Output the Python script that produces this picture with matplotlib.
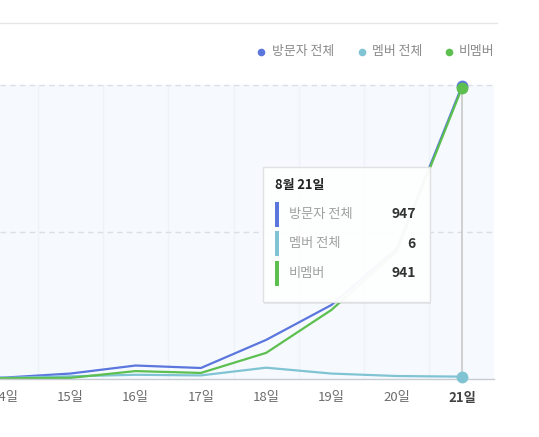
import matplotlib
matplotlib.use("Agg")
import matplotlib.pyplot as plt
from matplotlib.patches import FancyBboxPatch, Rectangle
from matplotlib.lines import Line2D

plt.rcParams['font.family'] = ['Noto Sans CJK KR', 'DejaVu Sans']

# ---- data ----
days = [13, 14, 15, 16, 17, 18, 19, 20, 21]
series_names = ["방문자 전체", "멤버 전체", "비멤버"]
visitors = [0, 3, 16, 42, 34, 125, 238, 420, 947]
members = [0, 2, 7, 12, 10, 35, 16, 8, 6]
non_members = [0, 1, 2, 24, 18, 83, 222, 412, 941]
tooltip_title = "8월 21일"
tick_days = [14, 15, 16, 17, 18, 19, 20, 21]
tick_labels = [f"{d}일" for d in tick_days]

colors = ["#5b76dd", "#80c4d4", "#5cbf4f"]
values = [visitors, members, non_members]

W, H = 539, 437
fig = plt.figure(figsize=(W / 100, H / 100), dpi=100)
fig.patch.set_facecolor("white")


def fx(px):
    return px / W


def fy(py):
    return 1 - py / H


# axes placement (pixels from top-left)
ax_left, ax_right, ax_top, ax_bottom = 0, 494, 85, 378.5
ax = fig.add_axes([fx(ax_left), fy(ax_bottom), fx(ax_right - ax_left), (ax_bottom - ax_top) / H])
ax.set_facecolor("#f6faff")
ax.set_xlim(13.923, 21.49)
ax.set_ylim(0, 950)

for s in ["top", "right", "left"]:
    ax.spines[s].set_visible(False)
ax.spines["bottom"].set_color("#c6ccd2")
ax.spines["bottom"].set_linewidth(1)

# band separators
for b in [d + 0.5 for d in days[:-1]]:
    ax.axvline(b, color="#eef3f9", lw=1, zorder=0.5)

# dashed gridlines
for g in [475, 950]:
    ax.axhline(g, color="#dadfe5", lw=1, ls=(0, (4, 3)), zorder=0.6, clip_on=False)

# crosshair
ax.plot([21, 21], [0, visitors[-1]], color="#c8c8c8", lw=1.2, zorder=1)

for vals, c in zip(values, colors):
    ax.plot(days, vals, color=c, lw=1.6, zorder=2, solid_joinstyle="round")
for vals, c in zip(values, colors):
    ax.plot([days[-1]], [vals[-1]], "o", color=c, ms=8.5, zorder=3, clip_on=False, mec="none")

ax.set_yticks([])
ax.set_xticks(tick_days)
ax.set_xticklabels(tick_labels, fontsize=9.5, color="#6b6b6b")
ax.tick_params(axis="x", length=0, pad=9)
lbls = ax.get_xticklabels()
lbls[-1].set_fontweight("bold")
lbls[-1].set_color("#444444")

# top separator line
fig.add_artist(Line2D([fx(0), fx(497)], [fy(23), fy(23)], color="#e6e6e6", lw=1))

# legend
leg_dots = [261, 361.7, 449]
leg_text = [272.5, 372, 459]
for name, c, dx, tx in zip(series_names, colors, leg_dots, leg_text):
    fig.add_artist(Line2D([fx(dx)], [fy(52)], marker="o", color=c, ms=5.5, mec="none", ls="none"))
    fig.text(fx(tx), fy(52), name, fontsize=9.3, color="#8a8a8a", va="center", ha="left")

# tooltip
tl, tt, tr, tb = 262.5, 166.5, 430, 302
shadow = FancyBboxPatch((fx(tl + 1.5), fy(tb + 2)), fx(tr - tl), (tb - tt) / H,
                        boxstyle="square,pad=0", transform=fig.transFigure,
                        facecolor="#000000", alpha=0.07, edgecolor="none", zorder=9)
fig.add_artist(shadow)
box = FancyBboxPatch((fx(tl), fy(tb)), fx(tr - tl), (tb - tt) / H,
                     boxstyle="square,pad=0", transform=fig.transFigure,
                     facecolor="white", alpha=0.96, edgecolor="#e0e0e0", lw=1, zorder=10)
fig.add_artist(box)
fig.text(fx(275), fy(185.5), tooltip_title, fontsize=9.3, fontweight="bold", color="#222222",
         va="center", ha="left", zorder=11)
row_y = [214.5, 243.5, 273]
for name, c, vals, ry in zip(series_names, colors, values, row_y):
    fig.add_artist(Rectangle((fx(275), fy(ry + 12.5)), fx(4), 25 / H, transform=fig.transFigure,
                             facecolor=c, edgecolor="none", zorder=11))
    fig.text(fx(289), fy(ry), name, fontsize=9.5, color="#a0a0a0", va="center", ha="left", zorder=11)
    fig.text(fx(416), fy(ry), f"{vals[-1]}", fontsize=10, fontweight="bold", color="#333333",
             va="center", ha="right", zorder=11)

fig.savefig("out.png", dpi=100, facecolor="white")
